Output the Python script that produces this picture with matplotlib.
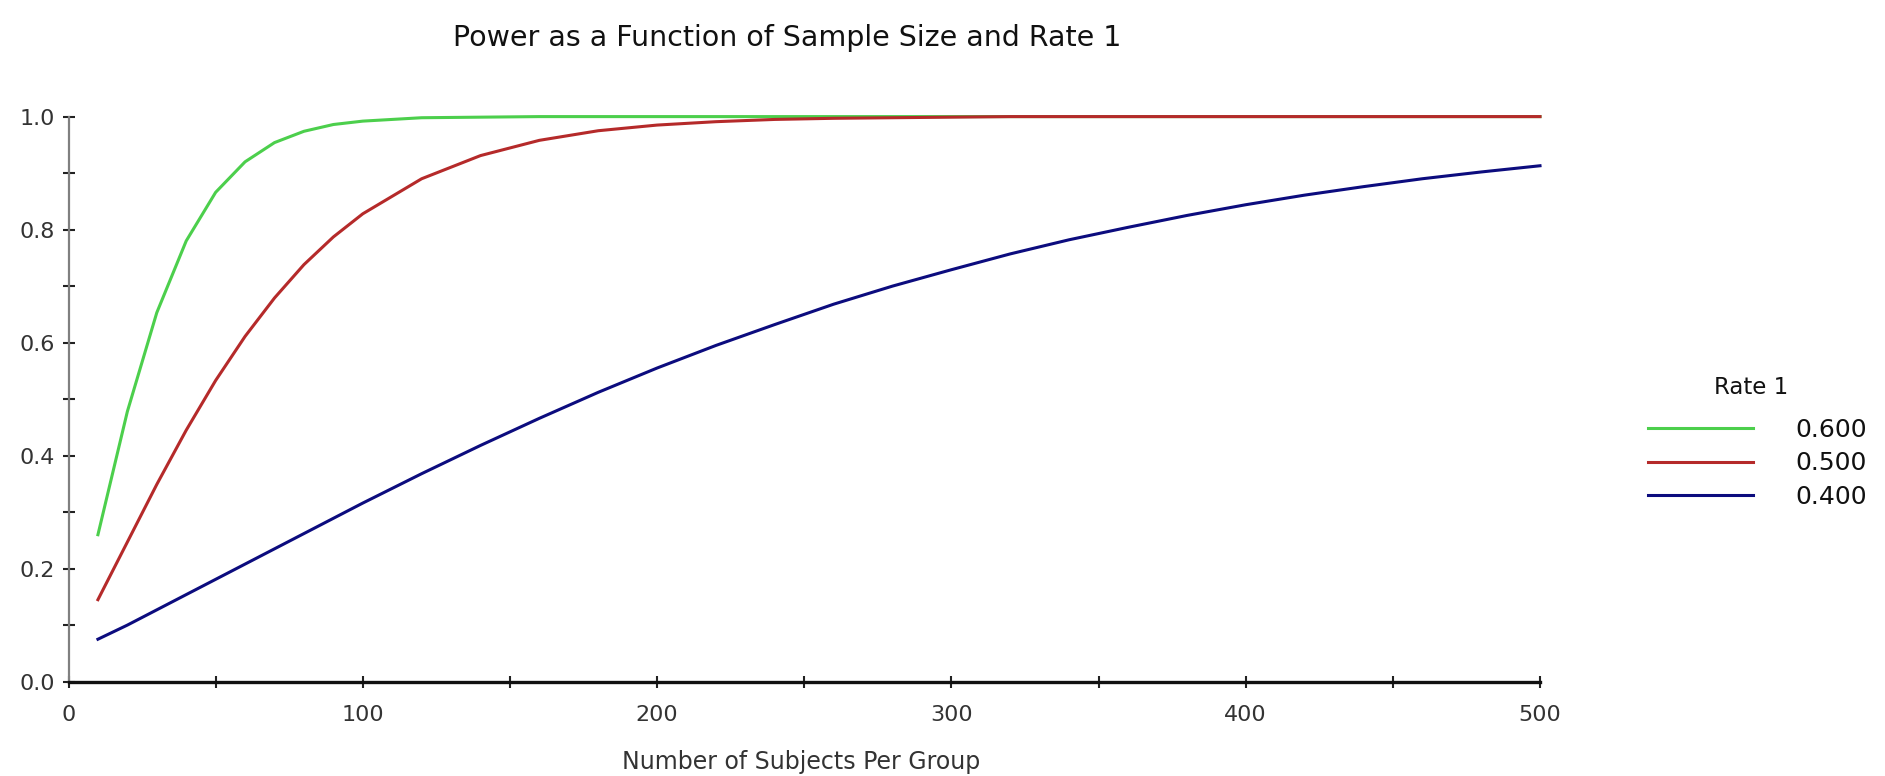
import matplotlib
matplotlib.use("Agg")
import matplotlib.pyplot as plt
from matplotlib.ticker import MultipleLocator, FormatStrFormatter

plt.rcParams['font.family'] = ['DejaVu Sans']

subjects = [10, 20, 30, 40, 50, 60, 70, 80, 90, 100, 120, 140, 160, 180, 200,
            220, 240, 260, 280, 300, 320, 340, 360, 380, 400, 420, 440, 460, 480, 500]
power_600 = [0.26, 0.478, 0.653, 0.78, 0.866, 0.92, 0.954, 0.974, 0.986, 0.992, 0.998, 0.999,
             1.0, 1.0, 1.0, 1.0, 1.0, 1.0, 1.0, 1.0, 1.0, 1.0, 1.0, 1.0, 1.0, 1.0, 1.0, 1.0, 1.0, 1.0]
power_500 = [0.145, 0.247, 0.349, 0.445, 0.533, 0.611, 0.679, 0.738, 0.787, 0.828, 0.89, 0.931,
             0.958, 0.975, 0.985, 0.991, 0.995, 0.997, 0.998, 0.999, 1.0, 1.0, 1.0, 1.0, 1.0,
             1.0, 1.0, 1.0, 1.0, 1.0]
power_400 = [0.075, 0.1, 0.127, 0.154, 0.181, 0.208, 0.235, 0.262, 0.289, 0.316, 0.368, 0.418,
             0.466, 0.512, 0.555, 0.595, 0.632, 0.668, 0.7, 0.729, 0.757, 0.782, 0.804, 0.825,
             0.844, 0.861, 0.876, 0.89, 0.902, 0.913]
series_labels = ["0.600", "0.500", "0.400"]
series_colors = ["#4ccf4c", "#b52a2a", "#0c0c7e"]

W, H = 1885, 776
fig = plt.figure(figsize=(W / 100, H / 100), dpi=100)
x0, x1 = 68.5, 1540
ytop, ybot = 116.6, 681.6
ax = fig.add_axes([x0 / W, 1 - ybot / H, (x1 - x0) / W, (ybot - ytop) / H])

for vals, lab, col in zip([power_600, power_500, power_400], series_labels, series_colors):
    ax.plot(subjects, vals, color=col, lw=2.2, label=lab, clip_on=False)

ax.set_xlim(0, 500)
ax.set_ylim(0, 1.0)
ax.xaxis.set_major_locator(MultipleLocator(100))
ax.xaxis.set_minor_locator(MultipleLocator(50))
ax.yaxis.set_major_locator(MultipleLocator(0.2))
ax.yaxis.set_minor_locator(MultipleLocator(0.1))
ax.yaxis.set_major_formatter(FormatStrFormatter('%.1f'))

for s in ['top', 'right']:
    ax.spines[s].set_visible(False)
ax.spines['left'].set_color('#808080')
ax.spines['left'].set_linewidth(1.6)
ax.spines['bottom'].set_color('#111111')
ax.spines['bottom'].set_linewidth(2.4)

ax.tick_params(axis='both', which='both', direction='inout', color='#222222', width=1.5)
ax.tick_params(axis='both', which='major', length=9)
ax.tick_params(axis='both', which='minor', length=8)
ax.tick_params(axis='x', which='major', labelsize=16, labelcolor='#333333', pad=12)
ax.tick_params(axis='y', which='major', labelsize=16, labelcolor='#333333', pad=5)

fig.text(787 / W, 1 - 38 / H, "Power as a Function of Sample Size and Rate 1",
         ha='center', va='center', fontsize=20.5, color='#111111')
fig.text(801 / W, 1 - 762 / H, "Number of Subjects Per Group",
         ha='center', va='center', fontsize=17, color='#333333')
fig.text(1751 / W, 1 - 387 / H, "Rate 1", ha='center', va='center',
         fontsize=16.5, color='#111111')

leg = ax.legend(loc='upper left', bbox_to_anchor=(1648 / W, 1 - 418 / H),
                bbox_transform=fig.transFigure, frameon=False,
                fontsize=18, handlelength=4.2, handletextpad=1.7,
                labelspacing=0.38, borderaxespad=0, borderpad=0)
for t in leg.get_texts():
    t.set_color('#111111')

fig.savefig("out.png", dpi=100)
